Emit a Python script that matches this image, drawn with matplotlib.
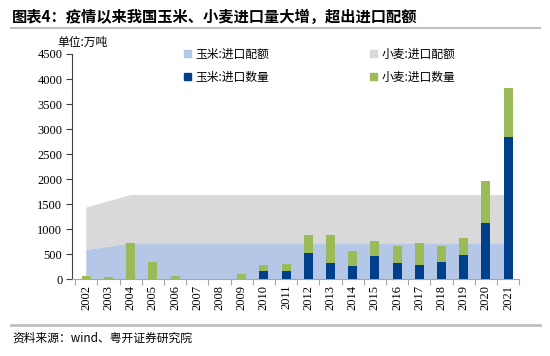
import matplotlib.pyplot as plt
from matplotlib.lines import Line2D
from matplotlib.patches import Patch

years = [str(y) for y in range(2002, 2022)]
corn_quota = [585, 652.5] + [720] * 18
wheat_quota = [846.8, 905.2] + [963.6] * 18
corn_import = [0.8, 0.1, 0.2, 0.4, 6.5, 3.5, 5, 8.4, 157, 175,
               521, 327, 260, 473, 317, 283, 352, 479, 1129, 2835]
wheat_import = [63, 45, 726, 354, 61, 10, 4, 90, 123, 126,
                370, 553, 300, 301, 341, 442, 310, 349, 838, 977]

cjk = ['Noto Sans CJK SC', 'DejaVu Sans']
serif = ['Liberation Serif', 'Noto Sans CJK SC']

c_cq = '#B4C7E7'
c_wq = '#D9D9D9'
c_ci = '#00408A'
c_wi = '#9BBB59'

fig = plt.figure(figsize=(5.5, 3.56), dpi=100)
ax = fig.add_axes([0.131, 0.2154, 0.813, 0.633])

x = list(range(len(years)))
ax.stackplot(x, corn_quota, wheat_quota, colors=[c_cq, c_wq], lw=0, zorder=1)
ax.bar(x, corn_import, width=0.4, color=c_ci, zorder=3)
ax.bar(x, wheat_import, width=0.4, bottom=corn_import, color=c_wi, zorder=3)

ax.set_xlim(-0.64, 19.5)
ax.set_ylim(0, 4500)
ax.set_yticks(range(0, 4501, 500))
ax.set_xticks([i - 0.5 for i in range(21)])
ax.set_xticklabels([])
ax.set_xticks(x, minor=True)
ax.set_xticklabels(years, minor=True, rotation=90, family=serif, fontsize=9)
ax.tick_params(axis='x', which='major', length=4, color='#A6A6A6', direction='out')
ax.tick_params(axis='x', which='minor', length=0, pad=4)
ax.tick_params(axis='y', length=4, color='#404040', direction='out', pad=3)
for lab in ax.get_yticklabels():
    lab.set_family(serif)
    lab.set_fontsize(9)

for s in ['top', 'right']:
    ax.spines[s].set_visible(False)
ax.spines['left'].set_color('#404040')
ax.spines['bottom'].set_color('#A6A6A6')

handles = [Patch(color=c_cq), Patch(color=c_ci), Patch(color=c_wq), Patch(color=c_wi)]
labels = ['玉米:进口配额', '玉米:进口数量', '小麦:进口配额', '小麦:进口数量']
leg = fig.legend(handles, labels, ncol=2, loc='upper left', bbox_to_anchor=(0.315, 0.896),
                 frameon=False, prop={'family': cjk, 'size': 8.5},
                 handlelength=0.6, handleheight=0.6, handletextpad=0.4,
                 columnspacing=8.5, labelspacing=0.85)

fig.text(0.104, 0.882, '单位:万吨', family=cjk, fontsize=8.5, va='center')

fig.text(0.022, 0.952, '图表4：疫情以来我国玉米、小麦进口量大增，超出进口配额',
         family=cjk, fontsize=11, fontweight='bold', va='center')
fig.add_artist(Line2D([0.02, 0.982], [0.921, 0.921], color='#BFBFBF', lw=1.5))
fig.add_artist(Line2D([0.02, 0.982], [0.087, 0.087], color='#BFBFBF', lw=2))
fig.text(0.022, 0.05, '资料来源：wind、粤开证券研究院', family=cjk, fontsize=8.5,
         style='italic', va='center')

fig.savefig('out.png', dpi=100)
